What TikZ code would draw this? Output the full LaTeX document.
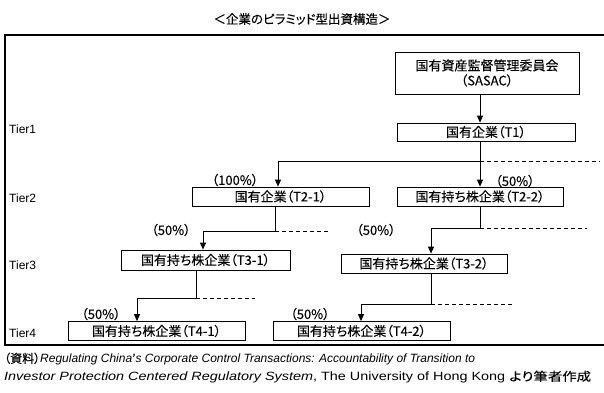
\documentclass[tikz,border=0pt]{standalone}
\usepackage{fontspec}
\setmainfont{Liberation Sans}
\newfontfamily\cjk[RawFeature=+palt, FakeBold=0.15]{Noto Sans CJK JP}
\usetikzlibrary{arrows.meta}
\begin{document}
\begin{tikzpicture}[x=1pt,y=-1pt,
  box/.style={draw, line width=0.8pt, inner sep=0pt, minimum height=19pt,
    font=\cjk\fontsize{13}{15}\selectfont},
  conn/.style={line width=0.8pt},
  arr/.style={conn, -{Triangle[length=7pt,width=6pt]}},
  dsh/.style={conn, dash pattern=on 4pt off 3pt},
  pct/.style={inner sep=0pt, font=\cjk\fontsize{13}{15}\selectfont},
  tier/.style={anchor=west, inner sep=0pt, font=\fontsize{12}{14}\selectfont},
  captext/.style={anchor=west, inner xsep=1pt, inner ysep=0pt, font=\fontsize{12}{14}\selectfont},
  frame/.style={line width=2pt}]
\useasboundingbox (0,0) rectangle (604,392);
% title
\node[inner sep=0pt, font=\cjk\fontsize{12.5}{15}\selectfont] (title) at (302,19) {＜企業のピラミッド型出資構造＞};
% frame (open on the right)
\draw[frame] (604,35) -- (5,35) -- (5,345) -- (604,345);
% tier labels
\node[tier] (tier1) at (9,129) {Tier1};
\node[tier] (tier2) at (9,198) {Tier2};
\node[tier] (tier3) at (9,265) {Tier3};
\node[tier] (tier4) at (9,333) {Tier4};
% boxes
\node[box, minimum width=184pt, minimum height=42pt, align=center] (sasac) at (487,73) {国有資産監督管理委員会\\（SASAC）};
\node[box, minimum width=178pt, minimum height=18pt] (t1) at (486,132) {国有企業（T1）};
\node[box, minimum width=177pt] (t21) at (280.5,196.5) {国有企業（T2-1）};
\node[box, minimum width=166pt] (t22) at (480,196.5) {国有持ち株企業（T2-2）};
\node[box, minimum width=169pt, minimum height=20pt] (t31) at (205.5,260) {国有持ち株企業（T3-1）};
\node[box, minimum width=166pt] (t32) at (424,263.5) {国有持ち株企業（T3-2）};
\node[box, minimum width=177pt] (t41) at (156.5,331) {国有持ち株企業（T4-1）};
\node[box, minimum width=177pt] (t42) at (361.5,331) {国有持ち株企業（T4-2）};
% junction coordinates
\coordinate (a0) at (480,100);
\coordinate (j1) at (480,161);
\coordinate (j1l) at (278,161);
\coordinate (j1r) at (600,161);
\coordinate (j2) at (275,231);
\coordinate (j2l) at (203,231);
\coordinate (j2r) at (330,231);
\coordinate (j3) at (480,228);
\coordinate (j3l) at (431,228);
\coordinate (j3r) at (587,228);
\coordinate (j4) at (196,298);
\coordinate (j4l) at (137,298);
\coordinate (j4r) at (255,298);
\coordinate (j5) at (431,304);
\coordinate (j5l) at (361,304);
\coordinate (j5r) at (513,304);
% connectors
\draw[arr] (sasac.south -| a0) -- (t1.north -| a0);
\draw[conn] (t1.south -| j1) -- (j1) -- (j1l);
\draw[dsh] (j1) -- (j1r);
\draw[arr] (j1l) -- (t21.north -| j1l);
\draw[arr] (j1) -- (t22.north -| j1);
\draw[conn] (t21.south -| j2) -- (j2) -- (j2l);
\draw[dsh] (j2) -- (j2r);
\draw[arr] (j2l) -- (t31.north -| j2l);
\draw[conn] (t22.south -| j3) -- (j3) -- (j3l);
\draw[dsh] (j3) -- (j3r);
\draw[arr] (j3l) -- (t32.north -| j3l);
\draw[conn] (t31.south -| j4) -- (j4) -- (j4l);
\draw[dsh] (j4) -- (j4r);
\draw[arr] (j4l) -- (t41.north -| j4l);
\draw[conn] (t32.south -| j5) -- (j5) -- (j5l);
\draw[dsh] (j5) -- (j5r);
\draw[arr] (j5l) -- (t42.north -| j5l);
% percentages
\node[pct] (p1) at (235,180) {（100\%）};
\node[pct] (p2) at (515,181) {（50\%）};
\node[pct] (p3) at (171,230) {（50\%）};
\node[pct] (p4) at (376,230) {（50\%）};
\node[pct] (p5) at (101,314) {（50\%）};
\node[pct] (p6) at (310,314) {（50\%）};
% caption
\node[captext] (cap1) at (3,359)
  {{\cjk （資料）}\textit{Regulating China{\upshape\cjk ’}s Corporate Control Transactions: Accountability of Transition to\/}};
\node[captext] (cap2) at (3,377)
  {\scalebox{1.2}[1]{\textit{Investor Protection Centered Regulatory System\/}, The University of Hong Kong {\cjk より筆者作成}}};
\end{tikzpicture}
\end{document}
